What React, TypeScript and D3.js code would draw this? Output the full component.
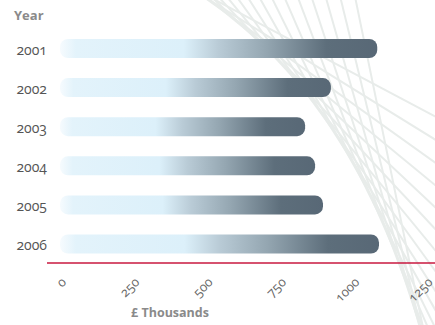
import React from "react";
import * as d3 from "d3";

const years = ["2001", "2002", "2003", "2004", "2005", "2006"];
const values = [1082, 924, 836, 870, 897, 1088];
const ticks = [0, 250, 500, 750, 1000, 1250];
const yAxisTitle = "Year";
const xAxisTitle = "£ Thousands";

const W = 435;
const H = 325;

export default function App() {
  const x = d3.scaleLinear().domain([0, 1250]).range([60, 426.5]);
  const y = d3
    .scaleBand<string>()
    .domain(years)
    .range([39, 253.5])
    .paddingInner(0.514)
    .paddingOuter(0);
  const axisY = 263;
  const font = "'Open Sans', 'DejaVu Sans', sans-serif";
  const numStyle: React.CSSProperties = {
    fontVariantNumeric: "oldstyle-nums",
    fontFeatureSettings: "'onum' 1",
  };

  // decorative lines tangent to a curve in the background
  const P0 = [208, 0], P1 = [358, 105], P2 = [422, 335];
  const deco: [number, number, number, number][] = [];
  const n = 17;
  for (let k = 0; k < n; k++) {
    const t = -0.15 + (1.3 * k) / (n - 1);
    const bx = (1 - t) * (1 - t) * P0[0] + 2 * t * (1 - t) * P1[0] + t * t * P2[0];
    const by = (1 - t) * (1 - t) * P0[1] + 2 * t * (1 - t) * P1[1] + t * t * P2[1];
    const dx = 2 * (1 - t) * (P1[0] - P0[0]) + 2 * t * (P2[0] - P1[0]);
    const dy = 2 * (1 - t) * (P1[1] - P0[1]) + 2 * t * (P2[1] - P1[1]);
    const len = Math.hypot(dx, dy);
    const ux = dx / len, uy = dy / len;
    deco.push([bx - ux * 800, by - uy * 800, bx + ux * 800, by + uy * 800]);
  }

  return (
    <svg
      width={W}
      height={H}
      style={{ position: "absolute", left: 0, top: 0, background: "#fff" }}
    >
      <defs>
        <linearGradient id="barGrad" x1="0" y1="0" x2="1" y2="0">
          <stop offset="0%" stopColor="#f6fbfe" />
          <stop offset="5%" stopColor="#e3f3fb" />
          <stop offset="39%" stopColor="#dcf0fa" />
          <stop offset="50%" stopColor="#b9cbd6" />
          <stop offset="65%" stopColor="#94a6b1" />
          <stop offset="84%" stopColor="#5d6e7b" />
          <stop offset="100%" stopColor="#586876" />
        </linearGradient>
      </defs>

      <g stroke="#e8ecea" strokeWidth={2} fill="none">
        {deco.map((d, i) => (
          <line key={i} x1={d[0]} y1={d[1]} x2={d[2]} y2={d[3]} />
        ))}
      </g>

      <text
        x={14}
        y={20}
        fontFamily={font}
        fontWeight="bold"
        fontSize={13}
        fill="#8a8a8a"
      >
        {yAxisTitle}
      </text>

      {years.map((yr, i) => {
        const y0 = y(yr)!;
        const bw = y.bandwidth();
        return (
          <g key={yr}>
            <rect
              x={x(0)}
              y={y0}
              width={x(values[i]) - x(0)}
              height={bw}
              rx={8}
              ry={8}
              fill="url(#barGrad)"
            />
            <text
              x={47}
              y={y0 + bw / 2 + 6.5}
              textAnchor="end"
              fontFamily={font}
              fontSize={14}
              fill="#555"
              style={numStyle}
            >
              {yr}
            </text>
          </g>
        );
      })}

      <line
        x1={47}
        x2={W}
        y1={axisY}
        y2={axisY}
        stroke="#c8183f"
        strokeWidth={1.6}
      />

      {ticks.map((t) => (
        <text
          key={t}
          transform={`translate(${x(t) + 7},${axisY + 20}) rotate(-45)`}
          textAnchor="end"
          fontFamily={font}
          fontSize={13}
          fill="#666"
          style={numStyle}
        >
          {t}
        </text>
      ))}

      <text
        x={170}
        y={317}
        textAnchor="middle"
        fontFamily={font}
        fontWeight="bold"
        fontSize={12.5}
        fill="#8a8a8a"
      >
        {xAxisTitle}
      </text>
    </svg>
  );
}
